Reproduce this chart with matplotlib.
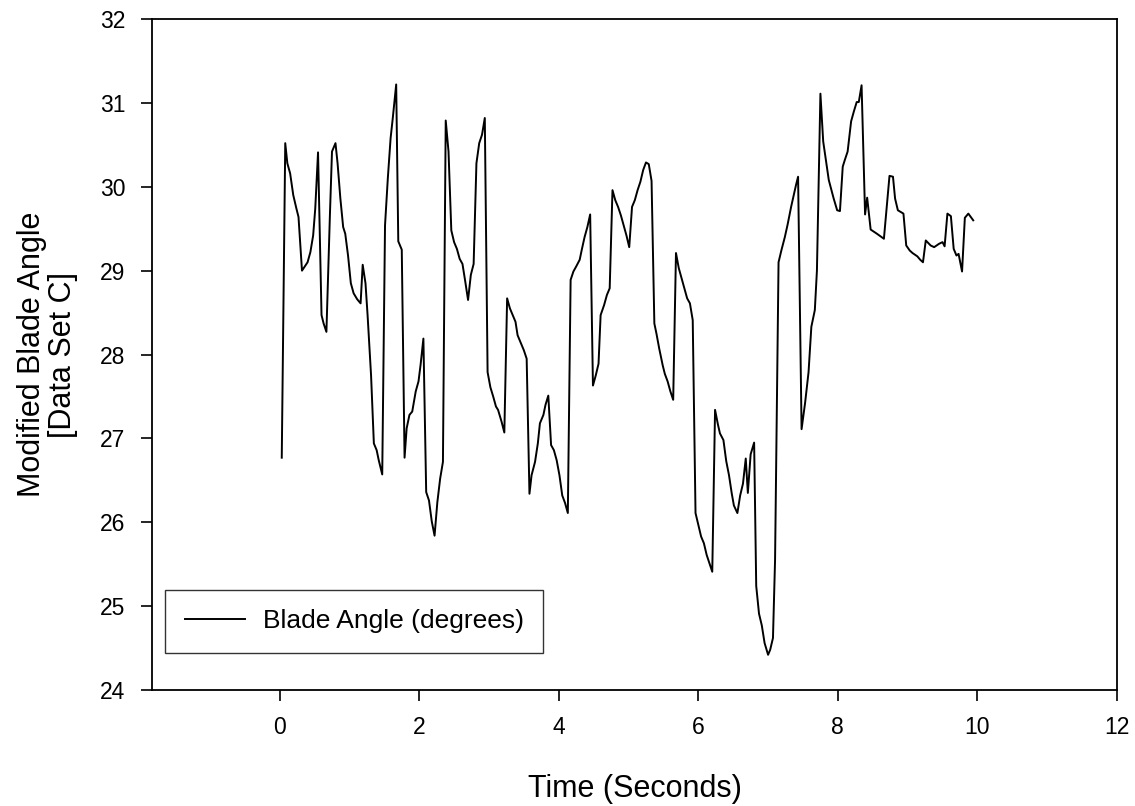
import matplotlib.pyplot as plt

plt.rcParams['font.family'] = ['Liberation Sans', 'DejaVu Sans']

# values
time_s = [
    0.03, 0.08, 0.11, 0.15, 0.195, 0.24, 0.27, 0.32, 0.40, 0.44, 0.48, 0.51, 0.55,
    0.60, 0.63, 0.67, 0.72, 0.75, 0.80, 0.83, 0.87, 0.91, 0.94, 0.98, 1.02, 1.06,
    1.11, 1.16, 1.19, 1.23, 1.26, 1.31, 1.35, 1.39, 1.42, 1.47, 1.51, 1.55, 1.59,
    1.62, 1.67, 1.70, 1.75, 1.79, 1.82, 1.86, 1.90, 1.95, 1.99, 2.02, 2.06, 2.10,
    2.14, 2.18, 2.22, 2.26, 2.30, 2.34, 2.38, 2.42, 2.46, 2.50, 2.54, 2.58, 2.62,
    2.66, 2.70, 2.74, 2.78, 2.82, 2.86, 2.90, 2.94, 2.98, 3.02, 3.06, 3.10, 3.13,
    3.18, 3.22, 3.26, 3.30, 3.34, 3.38, 3.41, 3.45, 3.50, 3.54, 3.58, 3.61, 3.66,
    3.70, 3.73, 3.78, 3.81, 3.85, 3.89, 3.93, 3.97, 4.01, 4.05, 4.09, 4.13, 4.17,
    4.21, 4.25, 4.30, 4.33, 4.37, 4.41, 4.45, 4.49, 4.53, 4.57, 4.60, 4.65, 4.69,
    4.73, 4.77, 4.81, 4.85, 4.89, 4.93, 4.97, 5.01, 5.05, 5.09, 5.13, 5.17, 5.21,
    5.25, 5.29, 5.33, 5.37, 5.40, 5.44, 5.49, 5.52, 5.56, 5.60, 5.64, 5.68, 5.72,
    5.76, 5.80, 5.84, 5.88, 5.92, 5.96, 6.00, 6.04, 6.08, 6.12, 6.16, 6.20, 6.24,
    6.28, 6.31, 6.36, 6.40, 6.44, 6.48, 6.51, 6.56, 6.60, 6.64, 6.68, 6.71, 6.75,
    6.80, 6.83, 6.87, 6.91, 6.95, 7.00, 7.03, 7.07, 7.10, 7.15, 7.19, 7.24, 7.28,
    7.33, 7.40, 7.43, 7.48, 7.53, 7.58, 7.62, 7.67, 7.70, 7.75, 7.79, 7.87, 7.94,
    7.99, 8.03, 8.07, 8.10, 8.14, 8.19, 8.23, 8.27, 8.30, 8.34, 8.39, 8.42, 8.47,
    8.56, 8.66, 8.74, 8.79, 8.82, 8.86, 8.94, 8.98, 9.03, 9.07, 9.14, 9.18, 9.22,
    9.26, 9.33, 9.38, 9.45, 9.50, 9.53, 9.57, 9.62, 9.66, 9.70, 9.73, 9.78, 9.82,
    9.87, 9.94,
]
blade_angle = [
    26.77, 30.52, 30.28, 30.16, 29.90, 29.74, 29.64, 29.00, 29.10, 29.22, 29.42, 29.74, 30.41,
    28.47, 28.37, 28.27, 29.66, 30.42, 30.52, 30.28, 29.86, 29.52, 29.44, 29.18, 28.85, 28.73,
    28.66, 28.61, 29.07, 28.85, 28.47, 27.75, 26.94, 26.86, 26.74, 26.57, 29.54, 30.10, 30.58,
    30.81, 31.22, 29.35, 29.25, 26.77, 27.12, 27.28, 27.32, 27.56, 27.68, 27.88, 28.19, 26.36,
    26.26, 26.01, 25.84, 26.24, 26.52, 26.72, 30.79, 30.42, 29.48, 29.34, 29.26, 29.14, 29.08,
    28.87, 28.65, 28.95, 29.08, 30.28, 30.52, 30.62, 30.82, 27.79, 27.61, 27.50, 27.38, 27.34,
    27.20, 27.07, 28.67, 28.55, 28.47, 28.39, 28.23, 28.15, 28.05, 27.95, 26.34, 26.56, 26.72,
    26.94, 27.18, 27.28, 27.40, 27.51, 26.92, 26.86, 26.74, 26.56, 26.32, 26.23, 26.11, 28.89,
    28.99, 29.05, 29.13, 29.25, 29.40, 29.52, 29.67, 27.63, 27.75, 27.89, 28.47, 28.59, 28.71,
    28.79, 29.96, 29.84, 29.76, 29.66, 29.54, 29.42, 29.28, 29.76, 29.84, 29.96, 30.06, 30.20,
    30.29, 30.27, 30.07, 28.37, 28.25, 28.07, 27.87, 27.77, 27.68, 27.56, 27.46, 29.21, 29.03,
    28.91, 28.79, 28.67, 28.61, 28.41, 26.11, 25.97, 25.83, 25.75, 25.61, 25.51, 25.41, 27.34,
    27.17, 27.06, 26.98, 26.73, 26.56, 26.34, 26.20, 26.11, 26.32, 26.46, 26.76, 26.35, 26.81,
    26.95, 25.24, 24.91, 24.77, 24.56, 24.42, 24.48, 24.62, 25.55, 29.10, 29.24, 29.40, 29.55,
    29.76, 30.02, 30.12, 27.11, 27.42, 27.79, 28.33, 28.53, 29.00, 31.11, 30.54, 30.08, 29.86,
    29.72, 29.71, 30.24, 30.32, 30.42, 30.78, 30.90, 31.01, 31.01, 31.21, 29.67, 29.87, 29.49,
    29.44, 29.38, 30.13, 30.12, 29.86, 29.72, 29.68, 29.30, 29.24, 29.21, 29.17, 29.13, 29.10,
    29.36, 29.30, 29.28, 29.32, 29.34, 29.29, 29.68, 29.65, 29.26, 29.18, 29.20, 28.99, 29.63,
    29.68, 29.60,
]
x_ticks = [0, 2, 4, 6, 8, 10, 12]
y_ticks = [24, 25, 26, 27, 28, 29, 30, 31, 32]

fig = plt.figure(figsize=(11.35, 8.06), dpi=100)
ax = fig.add_axes([0.1339, 0.1439, 0.8502, 0.8325])

ax.plot(time_s, blade_angle, color='black', linewidth=1.4, label='Blade Angle (degrees)')

ax.set_xlim(-1.83, 12)
ax.set_ylim(24, 32)
ax.set_xticks(x_ticks)
ax.set_yticks(y_ticks)
ax.tick_params(direction='out', length=8, width=1.2, labelsize=16.5, pad=11)
for sp in ax.spines.values():
    sp.set_linewidth(1.3)

ax.set_xlabel('Time (Seconds)', fontsize=22, labelpad=25)
ax.set_ylabel('Modified Blade Angle\n[Data Set C]', fontsize=22, labelpad=16,
              linespacing=1.05)

leg = ax.legend(loc='lower left', bbox_to_anchor=(0.0135, 0.055), borderaxespad=0,
                fontsize=19, frameon=True, fancybox=False, handlelength=2.3,
                borderpad=0.75, handletextpad=0.65)
leg.get_frame().set_edgecolor('black')
leg.get_frame().set_linewidth(1.0)

fig.savefig('out.png', dpi=100)
